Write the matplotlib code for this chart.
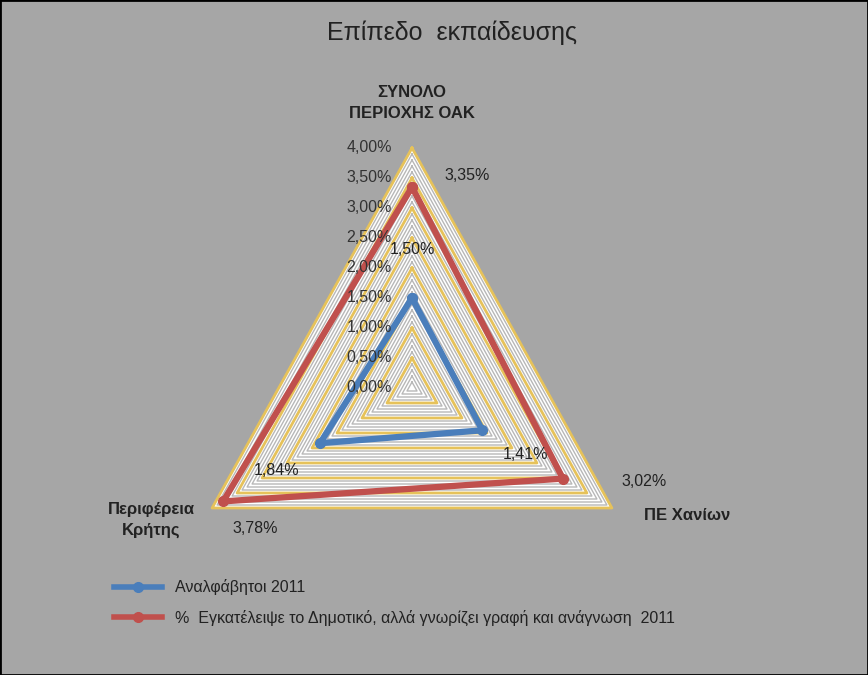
import numpy as np
import matplotlib
matplotlib.use("Agg")
import matplotlib.pyplot as plt
from matplotlib.lines import Line2D

plt.rcParams['font.family'] = ['Liberation Sans', 'DejaVu Sans']

categories = ["ΣΥΝΟΛΟ\nΠΕΡΙΟΧΗΣ ΟΑΚ", "ΠΕ Χανίων", "Περιφέρεια\nΚρήτης"]
series_names = ["Αναλφάβητοι 2011",
                "%  Εγκατέλειψε το Δημοτικό, αλλά γνωρίζει γραφή και ανάγνωση  2011"]
blue_vals = [1.50, 1.41, 1.84]
red_vals = [3.35, 3.02, 3.78]
tick_vals = [0, 0.5, 1.0, 1.5, 2.0, 2.5, 3.0, 3.5, 4.0]

angles = np.deg2rad([90, -30, 210])
W, H = 868, 675
cx, cy = 412, 388
sx, sy = 57.7, 60.0

fig = plt.figure(figsize=(W/100, H/100), dpi=100, facecolor="#a6a6a6")
ax = fig.add_axes([0, 0, 1, 1])
ax.set_xlim(-cx/sx, (W-cx)/sx)
ax.set_ylim(-(H-cy)/sy, cy/sy)
ax.axis("off")

def xy(vals):
    v = np.array(list(vals) + [vals[0]])
    a = np.append(angles, angles[0])
    return v*np.cos(a), v*np.sin(a)

x, y = xy([4, 4, 4])
ax.fill(x, y, color="white", zorder=1)
for r in np.arange(0.1, 4.0, 0.1):
    if abs(r/0.5 - round(r/0.5)) < 1e-6:
        continue
    x, y = xy([r]*3)
    ax.plot(x, y, color="#b8b8b8", lw=1.0, zorder=2)
for r in tick_vals[1:]:
    x, y = xy([r]*3)
    ax.plot(x, y, color="#e6c25a", lw=2.0, zorder=3)

for vals, c in [(blue_vals, "#4a7ebb"), (red_vals, "#c0504d")]:
    x, y = xy(vals)
    ax.plot(x, y, color=c, lw=4.5, marker="o", ms=7, mfc=c, mec=c, zorder=5)

for t in tick_vals:
    ax.text(-0.35, t, f"{t:.2f}%".replace(".", ","), ha="right", va="center",
            fontsize=11.5, color="#333333", zorder=6)

def lab(v, a, dx, dy, text):
    ax.text(v*np.cos(a)+dx, v*np.sin(a)+dy, text, fontsize=11.5, color="#222222",
            ha="center", va="center", zorder=6)
fmt = lambda v: f"{v:.2f}%".replace(".", ",")
lab(blue_vals[0], angles[0], 0.0, 0.8, fmt(blue_vals[0]))
lab(blue_vals[1], angles[1], 0.75, -0.4, fmt(blue_vals[1]))
lab(blue_vals[2], angles[2], -0.75, -0.45, fmt(blue_vals[2]))
lab(red_vals[0], angles[0], 0.95, 0.2, fmt(red_vals[0]))
lab(red_vals[1], angles[1], 1.4, -0.05, fmt(red_vals[1]))
lab(red_vals[2], angles[2], 0.55, -0.45, fmt(red_vals[2]))

ax.text(0, 4.0 + 0.75, categories[0], ha="center", va="center",
        fontsize=12, fontweight="bold", color="#222222", linespacing=1.5)
ax.text(4*np.cos(angles[1]) + 1.3, 4*np.sin(angles[1]) - 0.12, categories[1],
        ha="center", va="center", fontsize=12, fontweight="bold", color="#222222")
ax.text(4*np.cos(angles[2]) - 1.05, 4*np.sin(angles[2]) - 0.2, categories[2],
        ha="center", va="center", fontsize=12, fontweight="bold", color="#222222",
        linespacing=1.5)

fig.text(452/W, 1 - 33/H, "Επίπεδο  εκπαίδευσης", ha="center", va="center",
         fontsize=18, color="#222222")

handles = [Line2D([], [], color="#4a7ebb", lw=4, marker="o", ms=7),
           Line2D([], [], color="#c0504d", lw=4, marker="o", ms=7)]
fig.legend(handles, series_names, loc="upper left", bbox_to_anchor=(100/W, 1-565/H),
           frameon=False, fontsize=11.5, handlelength=3.0, labelspacing=0.9,
           labelcolor="#222222")

fig.patches.append(plt.Rectangle((0, 0), 1, 1, transform=fig.transFigure,
                                 fill=False, edgecolor="black", lw=2))
fig.savefig("out.png", dpi=100, facecolor=fig.get_facecolor())
